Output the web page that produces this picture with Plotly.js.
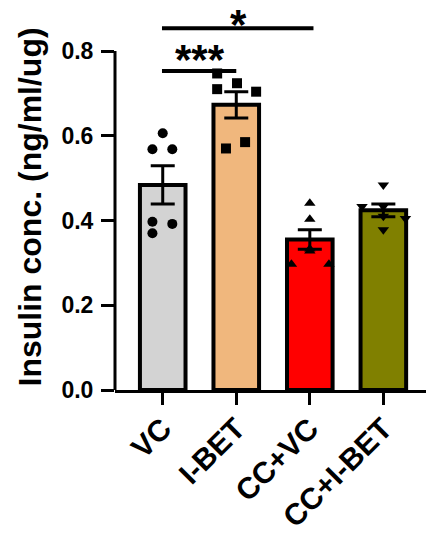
<!DOCTYPE html>
<html>
<head>
<meta charset="utf-8">
<script src="https://cdn.plot.ly/plotly-3.0.1.min.js"></script>
<style>html,body{margin:0;padding:0;background:#fff;}</style>
</head>
<body>
<div id="chart" style="width:426px;height:535px;"></div>
<script>
// ---- data ----
const categories = ["VC", "I-BET", "CC+VC", "CC+I-BET"];
const means = [0.484, 0.673, 0.355, 0.424];
const sems = [0.045, 0.031, 0.023, 0.015];
const ptsVC = [0.606, 0.568, 0.568, 0.397, 0.392, 0.370];
const ptsIBET = [0.747, 0.724, 0.710, 0.704, 0.585, 0.570];
const ptsCCVC = [0.441, 0.403, 0.333, 0.328, 0.297, 0.297];
const ptsCCIBET = [0.484, 0.433, 0.433, 0.410, 0.405, 0.378];
const yTicks = [0, 0.2, 0.4, 0.6, 0.8];
const yTickText = ["0.0", "0.2", "0.4", "0.6", "0.8"];
const sigLabels = ["***", "*"];

// ---- styling / layout (not data) ----
const barColors = ["#d3d3d3", "#f0b77d", "#ff0000", "#808000"];
const jitter = [
  [0, -0.14, 0.13, -0.14, 0.13, -0.14],
  [-0.26, 0.01, -0.26, 0.27, 0.12, -0.14],
  [0, 0, 0, 0, -0.25, 0.26],
  [0, -0.29, 0, 0, 0.30, 0]
];
const symbols = ["circle", "square", "triangle-up", "triangle-down"];
const allPts = [ptsVC, ptsIBET, ptsCCVC, ptsCCIBET];
const FONT = "Liberation Sans, Arial, sans-serif";
const xIdx = categories.map((c, i) => i);

const traces = [{
  type: "bar",
  x: xIdx,
  y: means,
  width: 0.62,
  marker: {color: barColors, line: {color: "#000", width: 4}},
  error_y: {type: "data", array: sems, visible: true, color: "#000", thickness: 3, width: 12},
  hoverinfo: "none"
}];
allPts.forEach((pts, i) => {
  traces.push({
    type: "scatter",
    mode: "markers",
    x: pts.map((v, j) => i + jitter[i][j]),
    y: pts,
    marker: {symbol: symbols[i], size: 10, color: "#000"},
    cliponaxis: false,
    hoverinfo: "none"
  });
});

const layout = {
  width: 426, height: 535,
  margin: {l: 115, r: 0, t: 0, b: 145},
  showlegend: false,
  paper_bgcolor: "#fff", plot_bgcolor: "#fff",
  font: {family: FONT, color: "#000"},
  bargap: 0,
  xaxis: {
    range: [-0.649, 3.58],
    tickmode: "array", tickvals: xIdx, ticktext: categories,
    tickangle: -45,
    tickfont: {family: FONT, size: 30, weight: "bold", color: "#000"},
    ticklabelstandoff: -6,
    showline: true, linewidth: 3, linecolor: "#000",
    ticks: "outside", ticklen: 12, tickwidth: 3, tickcolor: "#000",
    showgrid: false, zeroline: false, fixedrange: true
  },
  yaxis: {
    range: [0, 0.9204],
    tickmode: "array", tickvals: yTicks, ticktext: yTickText,
    tickfont: {family: FONT, size: 23, weight: "bold", color: "#000"},
    ticklabelstandoff: 3,
    showline: false,
    ticks: "outside", ticklen: 13, tickwidth: 3, tickcolor: "#000",
    showgrid: false, zeroline: false, fixedrange: true
  },
  shapes: [
    {type: "line", xref: "paper", yref: "y", x0: 0, x1: 0, y0: -0.012, y1: 0.8, line: {color: "#000", width: 3}},
    {type: "line", xref: "x", yref: "y", x0: -0.01, x1: 1.0, y0: 0.753, y1: 0.753, line: {color: "#000", width: 4}},
    {type: "line", xref: "x", yref: "y", x0: -0.01, x1: 2.05, y0: 0.854, y1: 0.854, line: {color: "#000", width: 4}}
  ],
  annotations: [
    {xref: "x", yref: "y", x: 0.51, y: 0.72, text: sigLabels[0], showarrow: false, xanchor: "center", yanchor: "bottom",
     font: {family: FONT, size: 42, weight: "bold", color: "#000"}},
    {xref: "x", yref: "paper", x: 1.03, y: 1, text: sigLabels[1], showarrow: false, xanchor: "center", yanchor: "top",
     borderpad: 0, font: {family: FONT, size: 42, weight: "bold", color: "#000"}},
    {xref: "paper", yref: "paper", x: 0, xshift: -85, y: 0.468, text: "Insulin conc. (ng/ml/ug)", textangle: -90,
     showarrow: false, xanchor: "center", yanchor: "middle",
     font: {family: FONT, size: 32, weight: "bold", color: "#000"}}
  ]
};

Plotly.newPlot("chart", traces, layout, {displayModeBar: false, staticPlot: true});
</script>
</body>
</html>
